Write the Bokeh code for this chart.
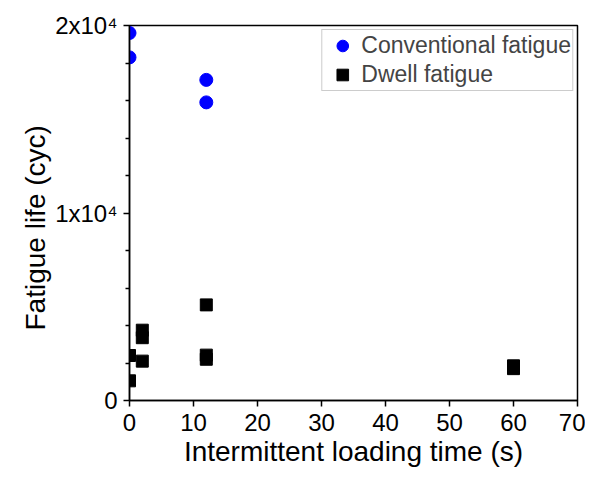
from bokeh.plotting import figure
from bokeh.models import FixedTicker, Range1d, Legend, LegendItem, Title
from bokeh.embed import file_html
from bokeh.resources import INLINE

# Data
conv_x = [0, 0, 12, 12]
conv_y = [19600, 18300, 17100, 15900]

dwell_x = [0, 0, 2, 2, 2, 12, 12, 12, 60, 60]
dwell_y = [2400, 1050, 3750, 3350, 2100, 5100, 2420, 2200, 1850, 1700]

x_ticks = [0, 10, 20, 30, 40, 50, 60, 70]
y_major = [0, 10000, 20000]
y_minor = [2000, 4000, 6000, 8000, 12000, 14000, 16000, 18000]
y_labels = {0: "0", 10000: "1x10\u2074", 20000: "2x10\u2074"}

FONT = "Liberation Sans"

p = figure(width=585, height=469, output_backend="svg", toolbar_location=None,
           x_range=Range1d(0, 70), y_range=Range1d(0, 20000),
           min_border_left=129, min_border_right=8, min_border_top=25, min_border_bottom=66)

p.grid.visible = False
p.background_fill_color = "white"
p.border_fill_color = "white"
p.outline_line_color = "black"
p.outline_line_width = 1.5

r1 = p.scatter(conv_x, conv_y, marker="circle", size=13, fill_color="#0000ff", line_color="#0000ff")
r2 = p.scatter(dwell_x, dwell_y, marker="square", size=12, fill_color="black", line_color="black")

xa = p.xaxis[0]
xa.ticker = FixedTicker(ticks=x_ticks, minor_ticks=[])
xa.axis_label = "Intermittent loading time (s)"
ya = p.yaxis[0]
ya.ticker = FixedTicker(ticks=y_major, minor_ticks=y_minor)
ya.major_label_overrides = y_labels

for ax in (xa, ya):
    ax.axis_line_width = 1.5
    ax.axis_line_color = "black"
    ax.major_tick_in = 0
    ax.major_tick_out = 6
    ax.minor_tick_in = 0
    ax.minor_tick_out = 4
    ax.major_tick_line_width = 1.5
    ax.minor_tick_line_width = 1.5
    ax.major_label_text_font = FONT
    ax.major_label_text_font_size = "24px"
    ax.major_label_text_color = "black"
    ax.axis_label_text_font = FONT
    ax.axis_label_text_font_size = "28px"
    ax.axis_label_text_font_style = "normal"
    ax.axis_label_text_color = "black"

xa.major_label_standoff = 7
xa.axis_label_standoff = 2
ya.major_label_standoff = 6

ytitle = Title(text="Fatigue life (cyc)", align="left", offset=70,
               text_font=FONT, text_font_size="28px", text_font_style="normal",
               text_color="black", standoff=4)
p.add_layout(ytitle, "left")

legend = Legend(items=[LegendItem(label="Conventional fatigue", renderers=[r1]),
                       LegendItem(label="Dwell fatigue", renderers=[r2])],
                location="top_right", margin=4, padding=1, spacing=0,
                glyph_width=38, glyph_height=29, label_height=29, label_standoff=0,
                label_text_font=FONT, label_text_font_size="23px",
                border_line_color="#999999", border_line_width=1,
                background_fill_color="white", background_fill_alpha=1)
p.add_layout(legend)

open("out.html", "w").write(file_html(p, INLINE))
